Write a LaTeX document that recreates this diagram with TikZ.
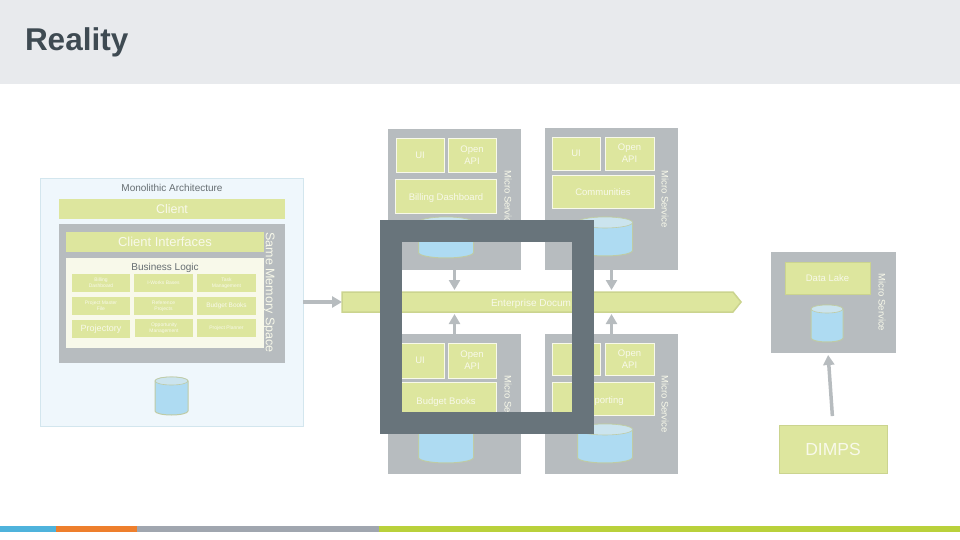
\documentclass[tikz,border=0pt]{standalone}
\usepackage{fontspec}
\setmainfont{Liberation Sans}
\usetikzlibrary{
  positioning,
  shapes.symbols,
  arrows.meta
}
\definecolor{leaf}{HTML}{DDE69E}
\definecolor{leafedge}{HTML}{CBD48F}
\definecolor{slate}{HTML}{B7BCBF}
\definecolor{framegray}{HTML}{68747B}
\definecolor{paper}{HTML}{F8F9EA}
\definecolor{inktext}{HTML}{666E72}
\definecolor{dbbody}{HTML}{AEDBF2}
\definecolor{dbtop}{HTML}{CBE4EE}
\definecolor{dbedge}{HTML}{BFCBA5}

\begin{document}
\begin{tikzpicture}[
  x=1pt, y=1pt,
  every node/.style={inner sep=0pt, outer sep=0pt, text=paper, align=center},
  box/.style={fill=leaf, font=\fontsize{9.5}{12}\selectfont},
  msbox/.style={draw=paper, fill=leaf, line width=0.8pt, font=\fontsize{9.5}{12}\selectfont},
  oneline/.style={text height=9pt, text depth=0pt},
  lakebox/.style={draw=leafedge, fill=leaf, line width=1pt},
  cell/.style={fill=leaf, minimum width=58.5pt, minimum height=18pt, font=\fontsize{5}{6}\selectfont},
  service/.style={fill=slate, minimum width=133pt},
  vlabel/.style={rotate=-90, font=\fontsize{9.5}{12}\selectfont},
  arrow/.style={draw=slate, line width=3.5pt, -{Triangle[length=10pt,width=11pt]}, shorten >=2pt},
  heading/.style={text=inktext, font=\fontsize{10}{12}\selectfont},
  pics/dbase/.style n args={3}{code={
    \path[draw=dbedge, fill=dbbody, line width=1pt] (-#1/2,#2/2-#3) -- (-#1/2,-#2/2+#3)
      arc[start angle=180, end angle=360, x radius=#1/2, y radius=#3] -- (#1/2,#2/2-#3)
      arc[start angle=0, end angle=180, x radius=#1/2, y radius=#3] -- cycle;
    \path[draw=dbedge, fill=dbtop, line width=0.6pt] (0,#2/2-#3) ellipse[x radius=#1/2, y radius=#3];
  }}
]
\useasboundingbox (0,0) rectangle (960,-540);

% Title band
\fill[fill={rgb,255:red,232;green,234;blue,237}] (0,0) rectangle (960,-84);
\node[anchor=west, text={rgb,255:red,62;green,74;blue,82}, font=\fontsize{31.5}{36}\selectfont\bfseries] (title) at (25,-42.5) {Reality};

% Footer stripe
\fill[fill={rgb,255:red,79;green,179;blue,220}] (0,-526) rectangle (56,-532);
\fill[fill={rgb,255:red,238;green,127;blue,45}] (56,-526) rectangle (137,-532);
\fill[fill={rgb,255:red,160;green,166;blue,175}] (137,-526) rectangle (379,-532);
\fill[fill={rgb,255:red,185;green,209;blue,59}] (379,-526) rectangle (960,-532);

% Monolith
\node[draw={rgb,255:red,211;green,230;blue,238}, fill={rgb,255:red,239;green,247;blue,252}, minimum width=263pt, minimum height=248pt] (mono) at (171.5,-302) {};
\node[heading] (monotitle) at (172,-188) {Monolithic Architecture};
\node[box, minimum width=226pt, minimum height=20pt, font=\fontsize{12.5}{14}\selectfont] (client) at (172,-209) {Client};
\node[fill=slate, minimum width=226pt, minimum height=139pt] (memory) at (172,-293.5) {};
\node[box, minimum width=198pt, minimum height=20pt, font=\fontsize{13}{15}\selectfont] (ifaces) at (165,-242) {Client Interfaces};
\node[vlabel, font=\fontsize{12.5}{14}\selectfont] (space) at (269,-292.5) {Same Memory Space};
\node[fill=paper, minimum width=198pt, minimum height=90pt] (logic) at (165,-303) {};
\node[heading] (logictitle) at (165,-268) {Business Logic};

% Business logic cells
\node[cell] (billing) at (101,-283) {Billing\\Dashboard};
\node[cell, right=4pt of billing] (iworks) {I-Works Bases};
\node[cell, right=4.5pt of iworks] (task) {Task\\Management};
\node[cell, below=5pt of billing] (master) {Project Master\\File};
\node[cell, right=4pt of master] (reference) {Reference\\Projects};
\node[cell, right=4.5pt of reference, font=\fontsize{6.5}{8}\selectfont] (budget) {Budget Books};
\node[cell, below=5pt of master, font=\fontsize{9}{11}\selectfont] (projectory) {Projectory};
\node[cell, right=4.5pt of projectory, yshift=1pt] (opportunity) {Opportunity\\Management};
\node[cell, right=4pt of opportunity] (planner) {Project Planner};
\pic at (171.5,-396) {dbase={33}{38}{4}};

% Enterprise bar
\node[signal, signal to=east, signal pointer angle=102, draw=leafedge, fill=leaf, line width=1.5pt,
  minimum width=399pt, minimum height=20pt] (bar) at (537.5,-302) {};
\node[oneline, anchor=west, font=\fontsize{10}{12}\selectfont] (bartext) at (491,-302) {Enterprise Docum};

% Billing service
\node[service, minimum height=141pt] (msbilling) at (454.5,-199.5) {};
\node[msbox, minimum width=48pt, minimum height=34pt] (uibilling) at (420,-155) {UI};
\node[msbox, minimum width=48pt, minimum height=34pt] (apibilling) at (472,-155) {Open\\API};
\node[msbox, oneline, minimum width=101pt, minimum height=34pt] (dashbilling) at (446,-196) {Billing Dashboard};
\node[vlabel] (tagbilling) at (508,-199) {Micro Service};
\pic at (446,-237.5) {dbase={55}{41}{5.5}};

% Communities service
\node[service, minimum height=142pt] (mscomm) at (611.5,-199) {};
\node[msbox, minimum width=48pt, minimum height=33pt] (uicomm) at (576,-153.5) {UI};
\node[msbox, minimum width=49pt, minimum height=33pt] (apicomm) at (629.5,-153.5) {Open\\API};
\node[msbox, oneline, minimum width=102pt, minimum height=33pt] (dashcomm) at (603,-191.5) {Communities};
\node[vlabel] (tagcomm) at (665,-199) {Micro Service};
\pic at (605,-236.5) {dbase={55}{39}{5.5}};

% Budget service
\node[service, minimum height=140pt] (msbudget) at (454.5,-404) {};
\node[msbox, minimum width=48pt, minimum height=35pt] (uibudget) at (420,-360.5) {UI};
\node[msbox, minimum width=48pt, minimum height=35pt] (apibudget) at (472,-360.5) {Open\\API};
\node[msbox, oneline, minimum width=101pt, minimum height=36pt] (dashbudget) at (446,-400) {Budget Books};
\node[vlabel] (tagbudget) at (508,-404) {Micro Service};
\pic at (446,-442.5) {dbase={55}{41}{5.5}};

% Reporting service
\node[service, minimum height=140pt] (msreport) at (611.5,-404) {};
\node[msbox, minimum width=48pt, minimum height=32pt] (uireport) at (576,-359) {};
\node[msbox, minimum width=49pt, minimum height=32pt] (apireport) at (629.5,-359) {Open\\API};
\node[msbox, oneline, minimum width=102pt, minimum height=33pt] (dashreport) at (603,-398.5) {Reporting};
\node[vlabel] (tagreport) at (665,-404) {Micro Service};
\pic at (605,-443.5) {dbase={55}{39}{5.5}};

% Data lake service
\node[fill=slate, minimum width=125pt, minimum height=101pt] (mslake) at (833.5,-302.5) {};
\node[lakebox, minimum width=85pt, minimum height=32pt, font=\fontsize{9.5}{12}\selectfont] (lake) at (827.5,-278) {Data Lake};
\node[vlabel] (taglake) at (882,-302.5) {Micro Service};
\pic at (827,-323.5) {dbase={32}{37}{4}};

% DIMPS
\node[lakebox, minimum width=108pt, minimum height=48pt, font=\fontsize{17.5}{20}\selectfont] (dimps) at (833,-449) {DIMPS};
\coordinate (laketip) at (828,-353);

% Arrows
\draw[arrow, line width=4pt, shorten >=0pt] (mono.east) -- (bar.west);
\draw[arrow] (msbilling.south) -- (msbilling.south |- bar.north);
\draw[arrow] (mscomm.south) -- (mscomm.south |- bar.north);
\draw[arrow] (msbudget.north) -- (msbudget.north |- bar.south);
\draw[arrow] (msreport.north) -- (msreport.north |- bar.south);
\draw[arrow, shorten <=9pt] (dimps.north) -- (laketip);

% Frame on top
\node[draw=framegray, line width=22pt, minimum width=191.5pt, minimum height=192pt] (frame) at (486.75,-326.5) {};

\end{tikzpicture}
\end{document}
